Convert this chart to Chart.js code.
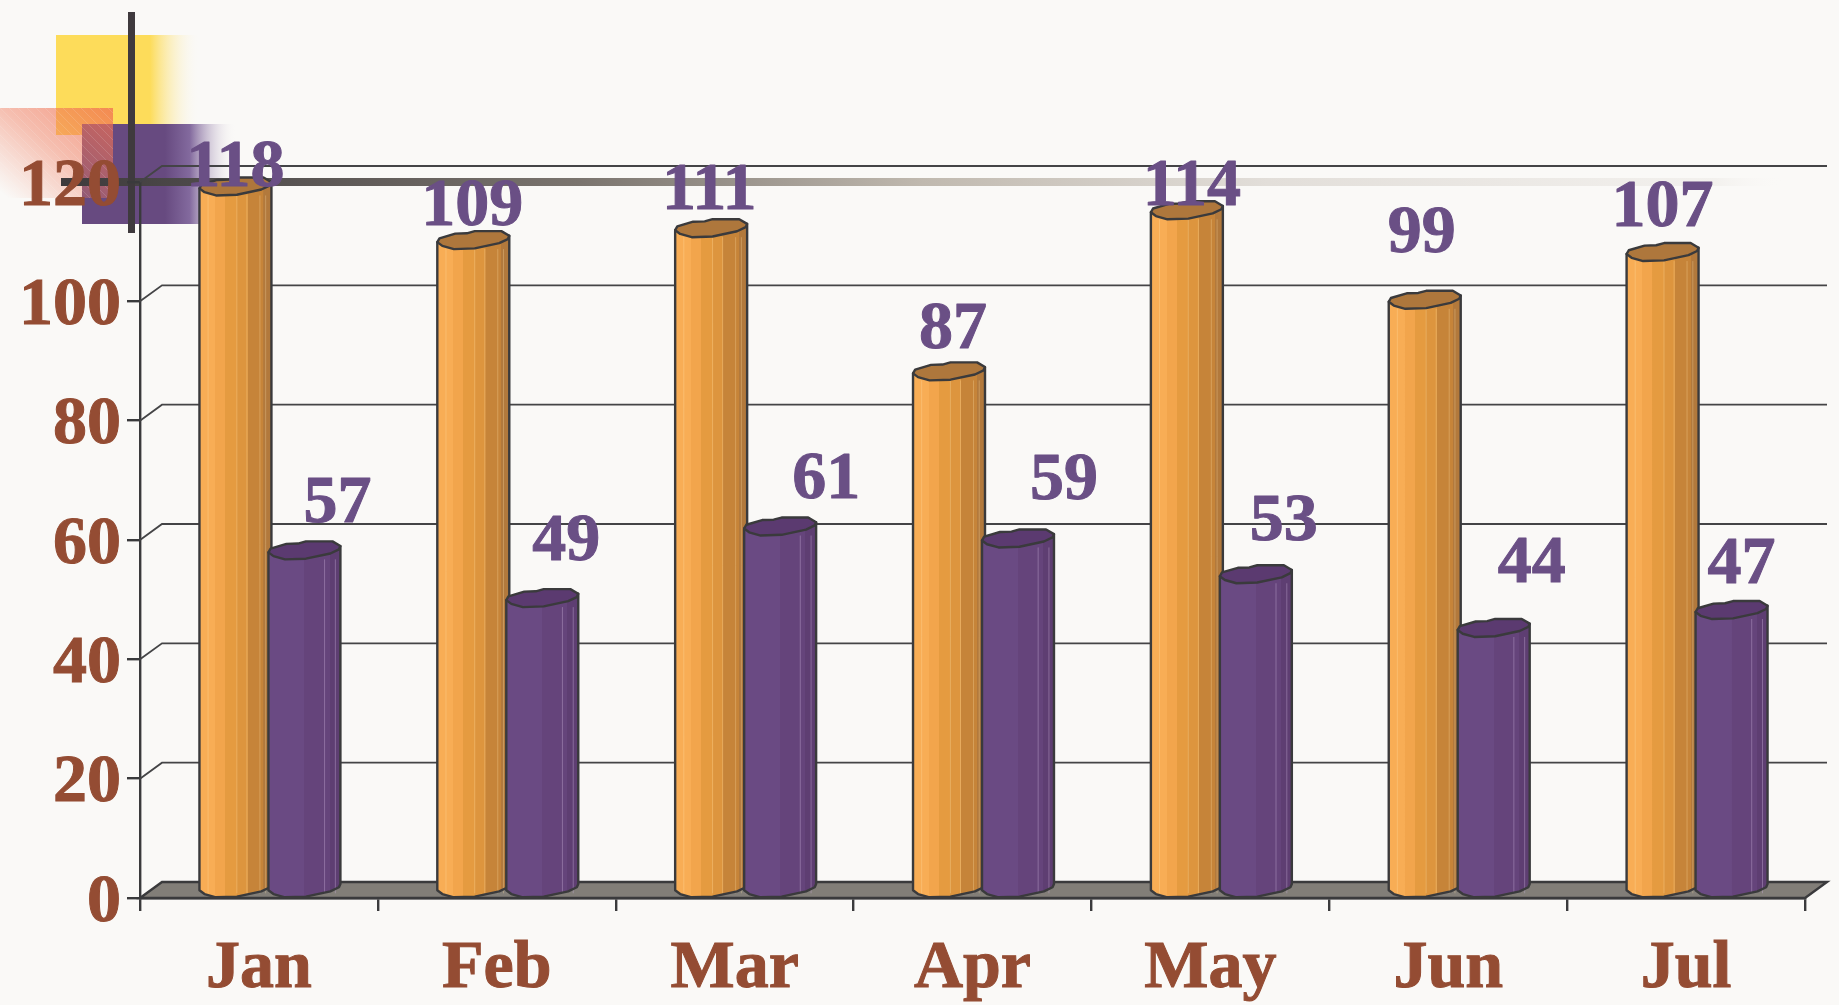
<!DOCTYPE html>
<html>
<head>
<meta charset="utf-8">
<title>Monthly columns</title>
<style>
    html, body { margin: 0; padding: 0; background: #faf9f7; }
    canvas { display: block; }
</style>
<script src="https://cdn.jsdelivr.net/npm/chart.js@4/dist/chart.umd.min.js"></script>
</head>
<body>
<canvas id="chart" width="1839" height="1005"></canvas>
<script>
const months = ['Jan', 'Feb', 'Mar', 'Apr', 'May', 'Jun', 'Jul'];
const orangeValues = [118, 109, 111, 87, 114, 99, 107];
const purpleValues = [57, 49, 61, 59, 53, 44, 47];
const yTicks = [0, 20, 40, 60, 80, 100, 120];

// label placement relative to each bar top, the source scatters them by hand
const orangeNudge = [[0, -8], [-1, -23], [-2, -27], [4, -31], [5, -13], [-3, -55], [0, -34]];
const purpleNudge = [[33, -36], [24, -46], [46, -36], [46, -47], [28, -42], [38, -53], [10, -35]];

const DEPTH_X = 22;
const DEPTH_Y = 16;
const LINE = '#3a3a3c';
const SERIF = '"Liberation Serif", "Times New Roman", serif';
const FONT_SIZE = 68;

// outline of the cut cylinder top, x and y as 0..1 of its box
const capShape = [[0, .61], [.03, .40], [.25, .14], [.41, .12], [.52, 0], [.89, 0], [1, .26],
    [.98, .44], [.86, .67], [.52, .96], [.23, 1], [.07, .82]];
const frontEdge = [[1, .26], [.98, .44], [.86, .67], [.52, .96], [.23, 1], [.07, .82], [0, .61]];

const orangeLook = {
    bands: [[0, '#f8ad55'], [.22, '#f2a54c'], [.36, '#e59b40'], [.52, '#dd953e'], [.67, '#c68439'], [.89, '#b2793c'], [1, '#ad763c']],
    cap: '#ae773c',
    streak: 'rgba(255,225,170,0.3)',
    streaks: [.12, .52, .66, .84, .92],
    nudge: orangeNudge,
};
const purpleLook = {
    bands: [[0, '#6a4a83'], [.5, '#65447b'], [.85, '#5e3e72'], [1, '#5b3a70']],
    cap: '#5b3a70',
    streak: 'rgba(200,175,215,0.4)',
    streaks: [.78, .93],
    nudge: purpleNudge,
};

function steppedGradient(ctx, left, right, bands) {
    const g = ctx.createLinearGradient(left, 0, right, 0);
    bands.forEach(([at, color], i) => {
        g.addColorStop(at, color);
        if (bands[i + 1]) g.addColorStop(bands[i + 1][0] - 0.001, color);
    });
    return g;
}

function drawLogo(ctx) {
    let g = ctx.createLinearGradient(150, 0, 200, 0);
    g.addColorStop(0, '#fddc5a');
    g.addColorStop(1, 'rgba(250,249,247,0)');
    ctx.fillStyle = g;
    ctx.fillRect(56, 35, 144, 100);

    g = ctx.createLinearGradient(165, 0, 236, 0);
    g.addColorStop(0, '#674a80');
    g.addColorStop(0.35, '#836a9e');
    g.addColorStop(1, 'rgba(250,249,247,0)');
    ctx.fillStyle = g;
    ctx.fillRect(82, 124, 154, 100);

    g = ctx.createLinearGradient(113, 108, 30, 215);
    g.addColorStop(0, 'rgba(240,110,80,0.75)');
    g.addColorStop(0.5, 'rgba(240,120,90,0.45)');
    g.addColorStop(1, 'rgba(240,130,100,0)');
    ctx.fillStyle = g;
    ctx.fillRect(0, 108, 113, 90);

    // fine hatch on the red square
    ctx.save();
    ctx.beginPath();
    ctx.rect(0, 108, 113, 90);
    ctx.clip();
    ctx.strokeStyle = 'rgba(250,249,247,0.14)';
    ctx.lineWidth = 1;
    for (let i = -90; i < 113; i += 9) {
        ctx.beginPath();
        ctx.moveTo(i, 108);
        ctx.lineTo(i + 90, 198);
        ctx.stroke();
    }
    ctx.restore();

    g = ctx.createLinearGradient(61, 0, 1785, 0);
    g.addColorStop(0, '#3d3a3c');
    g.addColorStop(0.3, '#7a746e');
    g.addColorStop(0.5, '#c0b9af');
    g.addColorStop(0.7, '#e2ded9');
    g.addColorStop(0.96, '#f3f1ee');
    g.addColorStop(1, 'rgba(250,249,247,0)');
    ctx.fillStyle = g;
    ctx.fillRect(61, 178, 1724, 8);

    ctx.fillStyle = '#3f3a3e';
    ctx.fillRect(128, 12, 7, 221);
}

const logoPlugin = {
    id: 'logo',
    beforeDraw(chart) {
        const ctx = chart.ctx;
        ctx.save();
        ctx.fillStyle = '#faf9f7';
        ctx.fillRect(0, 0, chart.width, chart.height);
        drawLogo(ctx);
        ctx.restore();
    },
};

// back wall lines and floor, pushed back from the real scale positions
const roomPlugin = {
    id: 'room',
    beforeDatasetsDraw(chart) {
        const ctx = chart.ctx;
        const { left, right } = chart.chartArea;
        const y = chart.scales.y;
        ctx.save();
        ctx.strokeStyle = '#444446';
        ctx.lineWidth = 1.8;
        yTicks.forEach((t) => {
            if (t === 0) return;
            const py = y.getPixelForValue(t);
            ctx.beginPath();
            ctx.moveTo(left, py);
            ctx.lineTo(left + DEPTH_X, py - DEPTH_Y);
            ctx.lineTo(right + DEPTH_X, py - DEPTH_Y);
            ctx.stroke();
        });
        const base = y.getPixelForValue(0);
        ctx.fillStyle = '#827e78';
        ctx.strokeStyle = LINE;
        ctx.lineWidth = 2.4;
        ctx.beginPath();
        ctx.moveTo(left, base);
        ctx.lineTo(left + DEPTH_X, base - DEPTH_Y);
        ctx.lineTo(right + DEPTH_X, base - DEPTH_Y);
        ctx.lineTo(right, base);
        ctx.closePath();
        ctx.fill();
        ctx.stroke();
        ctx.restore();
    },
};

function drawCylinder(ctx, el, look) {
    const w = el.width + 3;
    const left = el.x + DEPTH_X / 2 - w / 2;
    const h = 18;
    const topY = el.y - 16.5;
    const baseY = el.base - 17.5;
    const at = (p, oy) => [left + p[0] * w, oy + p[1] * h];

    ctx.beginPath();
    ctx.moveTo(...at([0, .61], topY));
    ctx.lineTo(...at([1, .26], topY));
    frontEdge.forEach((p) => ctx.lineTo(...at(p, baseY)));
    ctx.closePath();
    ctx.fillStyle = steppedGradient(ctx, left, left + w, look.bands);
    ctx.fill();

    ctx.strokeStyle = look.streak;
    ctx.lineWidth = 1;
    look.streaks.forEach((s) => {
        ctx.beginPath();
        ctx.moveTo(left + s * w, topY + h);
        ctx.lineTo(left + s * w, baseY + h - 4);
        ctx.stroke();
    });

    ctx.strokeStyle = LINE;
    ctx.lineWidth = 2.4;
    ctx.lineJoin = 'round';
    ctx.beginPath();
    ctx.moveTo(...at([0, .61], topY));
    ctx.lineTo(...at([1, .26], topY));
    frontEdge.forEach((p) => ctx.lineTo(...at(p, baseY)));
    ctx.closePath();
    ctx.stroke();

    ctx.beginPath();
    capShape.forEach((p, i) => {
        const pt = at(p, topY);
        if (i === 0) ctx.moveTo(...pt); else ctx.lineTo(...pt);
    });
    ctx.closePath();
    ctx.fillStyle = look.cap;
    ctx.fill();
    ctx.stroke();
}

const cylinderPlugin = {
    id: 'cylinders',
    afterDatasetsDraw(chart) {
        const ctx = chart.ctx;
        const looks = [orangeLook, purpleLook];
        ctx.save();
        looks.forEach((look, d) => {
            chart.getDatasetMeta(d).data.forEach((el) => drawCylinder(ctx, el, look));
        });
        ctx.font = 'bold ' + FONT_SIZE + 'px ' + SERIF;
        ctx.fillStyle = '#6a4f85';
        ctx.strokeStyle = '#6a4f85';
        ctx.lineWidth = 1;
        ctx.textAlign = 'center';
        ctx.textBaseline = 'alphabetic';
        looks.forEach((look, d) => {
            const values = chart.data.datasets[d].data;
            chart.getDatasetMeta(d).data.forEach((el, i) => {
                const n = look.nudge[i];
                ctx.fillText(String(values[i]), el.x + DEPTH_X / 2 + n[0], el.y + n[1]);
                ctx.strokeText(String(values[i]), el.x + DEPTH_X / 2 + n[0], el.y + n[1]);
            });
        });
        ctx.restore();
    },
};

new Chart(document.getElementById('chart'), {
    type: 'bar',
    data: {
        labels: months,
        datasets: [
            { data: orangeValues, backgroundColor: 'transparent' },
            { data: purpleValues, backgroundColor: 'transparent' },
        ],
    },
    options: {
        responsive: false,
        animation: false,
        categoryPercentage: 0.58,
        barPercentage: 1,
        layout: { padding: { top: 182, right: 34, left: 0, bottom: 0 } },
        plugins: { legend: { display: false }, tooltip: { enabled: false } },
        scales: {
            x: {
                afterFit: (s) => { s.height = 107; },
                border: { color: LINE, width: 2.4 },
                grid: { drawOnChartArea: false, color: LINE, lineWidth: 2.4, tickLength: 13, offset: true },
                ticks: {
                    color: '#944c33',
                    font: { family: SERIF, size: FONT_SIZE, weight: 'bold' },
                    textStrokeColor: '#944c33',
                    textStrokeWidth: 1,
                    padding: 18,
                    maxRotation: 0,
                },
            },
            y: {
                min: 0,
                max: 120,
                afterFit: (s) => { s.width = 140; },
                border: { color: LINE, width: 2.4 },
                grid: { drawOnChartArea: false, color: LINE, lineWidth: 2.4, tickLength: 13 },
                ticks: {
                    stepSize: 20,
                    color: '#944c33',
                    font: { family: SERIF, size: FONT_SIZE, weight: 'bold' },
                    textStrokeColor: '#944c33',
                    textStrokeWidth: 1,
                    padding: 6,
                    labelOffset: 5,
                },
            },
        },
    },
    plugins: [logoPlugin, roomPlugin, cylinderPlugin],
});
</script>
</body>
</html>
